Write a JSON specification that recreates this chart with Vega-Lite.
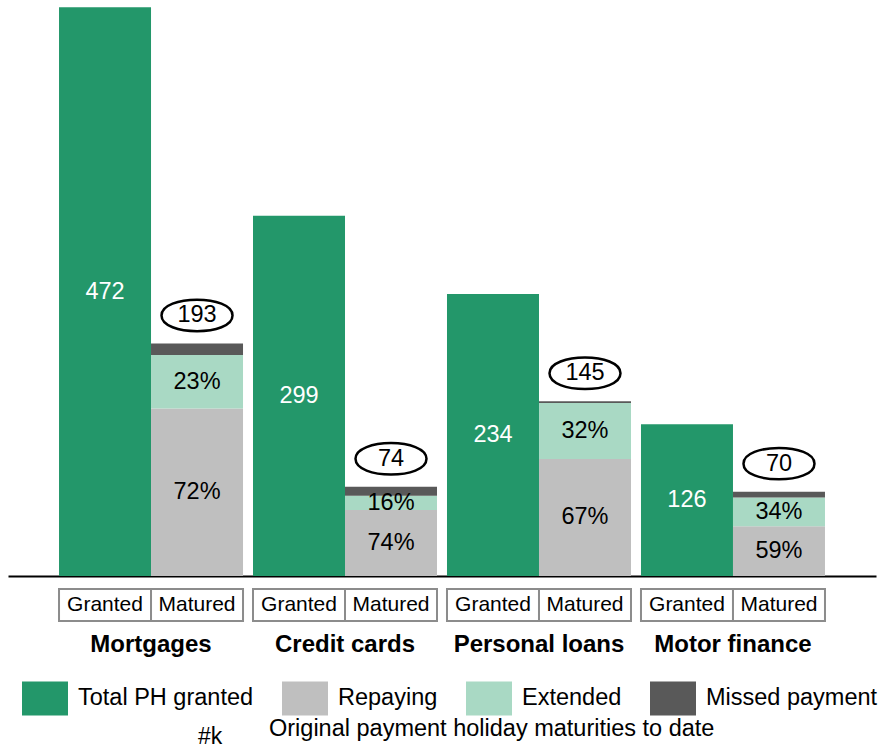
{
  "$schema": "https://vega.github.io/schema/vega-lite/v6.json",
  "padding": {"left": 8, "top": 0, "right": 0, "bottom": 0},
  "background": "white",
  "config": {"font": "Liberation Sans", "view": {"stroke": null}},
  "datasets": {
    "bars": [
      {"category": "Mortgages", "type": "Granted", "segment": "Total PH granted", "value": 472, "label": "472", "order": 0},
      {"category": "Mortgages", "type": "Matured", "segment": "Repaying", "value": 138.96, "label": "72%", "order": 1},
      {"category": "Mortgages", "type": "Matured", "segment": "Extended", "value": 44.39, "label": "23%", "order": 2},
      {"category": "Mortgages", "type": "Matured", "segment": "Missed payment", "value": 9.65, "label": "", "order": 3},
      {"category": "Credit cards", "type": "Granted", "segment": "Total PH granted", "value": 299, "label": "299", "order": 0},
      {"category": "Credit cards", "type": "Matured", "segment": "Repaying", "value": 54.76, "label": "74%", "order": 1},
      {"category": "Credit cards", "type": "Matured", "segment": "Extended", "value": 11.84, "label": "16%", "order": 2},
      {"category": "Credit cards", "type": "Matured", "segment": "Missed payment", "value": 7.4, "label": "", "order": 3},
      {"category": "Personal loans", "type": "Granted", "segment": "Total PH granted", "value": 234, "label": "234", "order": 0},
      {"category": "Personal loans", "type": "Matured", "segment": "Repaying", "value": 97.15, "label": "67%", "order": 1},
      {"category": "Personal loans", "type": "Matured", "segment": "Extended", "value": 46.4, "label": "32%", "order": 2},
      {"category": "Personal loans", "type": "Matured", "segment": "Missed payment", "value": 1.45, "label": "", "order": 3},
      {"category": "Motor finance", "type": "Granted", "segment": "Total PH granted", "value": 126, "label": "126", "order": 0},
      {"category": "Motor finance", "type": "Matured", "segment": "Repaying", "value": 41.3, "label": "59%", "order": 1},
      {"category": "Motor finance", "type": "Matured", "segment": "Extended", "value": 23.8, "label": "34%", "order": 2},
      {"category": "Motor finance", "type": "Matured", "segment": "Missed payment", "value": 4.9, "label": "", "order": 3}
    ],
    "totals": [
      {"category": "Mortgages", "type": "Matured", "total": 193},
      {"category": "Credit cards", "type": "Matured", "total": 74},
      {"category": "Personal loans", "type": "Matured", "total": 145},
      {"category": "Motor finance", "type": "Matured", "total": 70}
    ],
    "boxes": [
      {"category": "Mortgages", "type": "Granted"},
      {"category": "Mortgages", "type": "Matured"},
      {"category": "Credit cards", "type": "Granted"},
      {"category": "Credit cards", "type": "Matured"},
      {"category": "Personal loans", "type": "Granted"},
      {"category": "Personal loans", "type": "Matured"},
      {"category": "Motor finance", "type": "Granted"},
      {"category": "Motor finance", "type": "Matured"}
    ]
  },
  "spacing": 12,
  "resolve": {"scale": {"x": "independent", "xOffset": "independent"}},
  "vconcat": [
    {
      "width": 868,
      "height": 576,
      "data": {"name": "bars"},
      "encoding": {
        "x": {
          "field": "category", "type": "nominal",
          "sort": ["Mortgages", "Credit cards", "Personal loans", "Motor finance"],
          "scale": {"paddingInner": 0.0515, "paddingOuter": 0.263},
          "axis": {"title": null, "labels": false, "ticks": false, "domain": true, "domainColor": "black", "domainWidth": 2, "grid": false}
        },
        "xOffset": {"field": "type", "type": "nominal", "sort": ["Granted", "Matured"], "scale": {"paddingInner": 0, "paddingOuter": 0}}
      },
      "layer": [
        {
          "mark": {"type": "bar"},
          "encoding": {
            "y": {"field": "value", "type": "quantitative", "stack": "zero", "scale": {"domain": [0, 478], "nice": false, "zero": true}, "axis": null},
            "color": {
              "field": "segment", "type": "nominal",
              "scale": {"domain": ["Total PH granted", "Repaying", "Extended", "Missed payment"], "range": ["#23976A", "#BFBFBF", "#A9D9C4", "#595959"]},
              "legend": {
                "title": null, "orient": "none", "legendX": 14, "legendY": 675,
                "direction": "horizontal", "columns": 4, "columnPadding": 28,
                "symbolType": "M-1,-0.74H1V0.74H-1Z", "symbolSize": 2116, "symbolStrokeWidth": 0,
                "labelFontSize": 23.5, "labelColor": "black", "labelOffset": 10, "labelLimit": 300
              }
            },
            "order": {"field": "order", "type": "quantitative"}
          }
        },
        {
          "transform": [
            {"stack": "value", "groupby": ["category", "type"], "sort": [{"field": "order", "order": "ascending"}], "as": ["y0", "y1"]},
            {"fold": ["y0", "y1"], "as": ["edge", "pos"]},
            {"aggregate": [{"op": "mean", "field": "pos", "as": "mid"}], "groupby": ["category", "type", "segment", "label"]},
            {"filter": "datum.label !== ''"}
          ],
          "mark": {"type": "text", "fontSize": 23.5, "baseline": "middle"},
          "encoding": {
            "y": {"field": "mid", "type": "quantitative", "axis": null},
            "text": {"field": "label"},
            "color": {"condition": {"test": "datum.type === 'Granted'", "value": "white"}, "value": "black"}
          }
        },
        {
          "data": {"name": "totals"},
          "mark": {"type": "point", "filled": false, "fill": "white", "stroke": "black", "strokeWidth": 2.5, "size": 5041, "opacity": 1, "yOffset": -28},
          "encoding": {
            "y": {"field": "total", "type": "quantitative", "axis": null},
            "shape": {
              "datum": "#k",
              "scale": {"domain": ["#k"], "range": ["M-1,0C-1,-0.59 1,-0.59 1,0C1,0.59 -1,0.59 -1,0Z"]},
              "legend": {
                "orient": "none", "legendX": 165, "legendY": 701,
                "title": "Original payment holiday maturities to date", "titleOrient": "right",
                "titleFontSize": 23.5, "titleFontWeight": "normal", "titleColor": "black", "titlePadding": 21,
                "titleBaseline": "middle", "titleAnchor": "middle", "titleLimit": 700,
                "symbolSize": 4624, "symbolFillColor": "white", "symbolStrokeColor": "black", "symbolStrokeWidth": 2.5,
                "labelOffset": -46, "labelFontSize": 23, "labelColor": "black"
              }
            }
          }
        },
        {
          "data": {"name": "totals"},
          "mark": {"type": "text", "fontSize": 23.5, "baseline": "middle", "yOffset": -28},
          "encoding": {
            "y": {"field": "total", "type": "quantitative", "axis": null},
            "text": {"field": "total"},
            "color": {"value": "black"}
          }
        }
      ]
    },
    {
      "width": 868,
      "height": 32,
      "data": {"name": "boxes"},
      "encoding": {
        "x": {
          "field": "category", "type": "nominal",
          "sort": ["Mortgages", "Credit cards", "Personal loans", "Motor finance"],
          "scale": {"paddingInner": 0.0515, "paddingOuter": 0.263},
          "axis": {"title": null, "ticks": false, "domain": false, "grid": false, "labelAngle": 0, "labelFontSize": 24, "labelFontWeight": "bold", "labelColor": "black", "labelPadding": 11}
        },
        "xOffset": {"field": "type", "type": "nominal", "sort": ["Granted", "Matured"], "scale": {"paddingInner": 0, "paddingOuter": 0}}
      },
      "layer": [
        {"mark": {"type": "bar", "fill": "white", "stroke": "#8C8C8C", "strokeWidth": 2}},
        {"mark": {"type": "text", "fontSize": 21, "baseline": "middle", "color": "black"}, "encoding": {"text": {"field": "type"}}}
      ]
    }
  ]
}
